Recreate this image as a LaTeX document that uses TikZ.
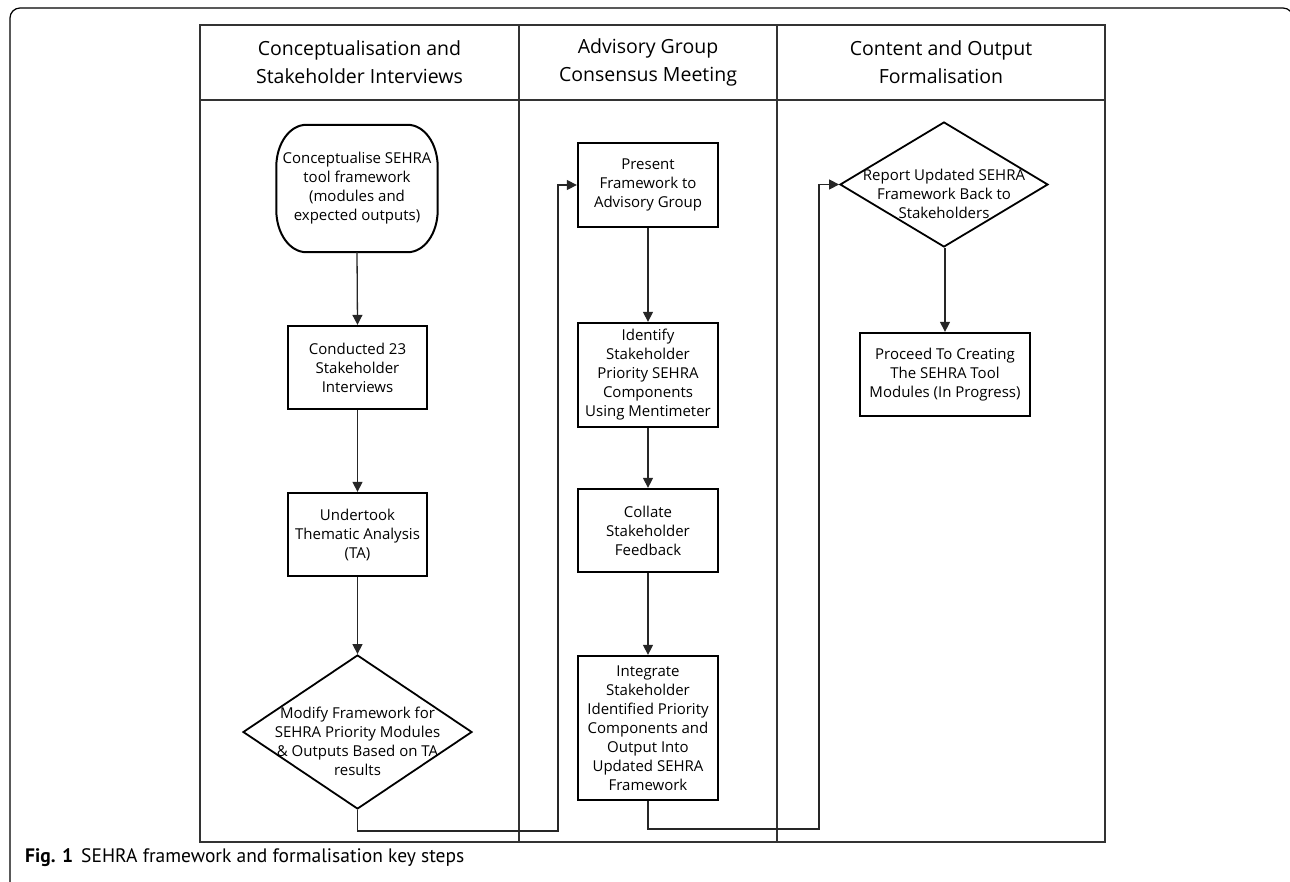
\documentclass[tikz,border=0pt]{standalone}
\usepackage{fontspec}
\setmainfont{Open Sans}
\newfontfamily\capfont{PT Sans}
\usetikzlibrary{arrows.meta,shapes.geometric,calc}
\begin{document}
\begin{tikzpicture}[x=1pt,y=-1pt,
  txt/.style={align=center, font=\fontsize{15}{19}\selectfont, inner sep=0pt},
  hdr/.style={align=center, font=\fontsize{19.5}{28}\selectfont, inner sep=0pt},
  stepbox/.style={draw=black, line width=2.3pt, minimum width=139pt, minimum height=83pt, txt},
  dia/.style={draw=black, line width=1.8pt, shape=diamond, inner sep=0pt},
  tbl/.style={draw=black!80, line width=1.6pt},
  conn/.style={draw=black!85, line width=1.3pt},
  arr/.style={conn, -{Triangle[length=10pt,width=10pt]}},
]
\useasboundingbox (0,0) rectangle (1290,881);
% outer frame
\draw[line width=1.2pt, rounded corners=10pt] (10,900) -- (10,8) -- (1293,8) -- (1293,900);
% table
\draw[tbl] (200,25) rectangle (1105,842);
\draw[tbl] (200,100) -- (1105,100);
\draw[tbl] (519,25) -- (519,842);
\draw[tbl] (777,25) -- (777,842);
% headers
\node[hdr] (h1) at (359.5,62) {Conceptualisation and\\Stakeholder Interviews};
\node[hdr] (h2) at (648,62) {Advisory Group\\Consensus Meeting};
\node[hdr] (h3) at (941,62) {Content and Output\\Formalisation};
% column 1
\node[txt, minimum width=161pt, minimum height=127pt] (term) at (357,188.5) {Conceptualise SEHRA\\tool framework\\(modules and\\expected outputs)};
\draw[line width=2pt] ($(term.north west)+(30,0)$) -- ($(term.north east)+(-30,0)$)
  arc[start angle=90,end angle=0,x radius=30pt,y radius=42pt]
  -- ($(term.south east)+(0,-42)$)
  arc[start angle=0,end angle=-90,x radius=30pt,y radius=42pt]
  -- ($(term.south west)+(30,0)$)
  arc[start angle=270,end angle=180,x radius=30pt,y radius=42pt]
  -- ($(term.north west)+(0,42)$)
  arc[start angle=180,end angle=90,x radius=30pt,y radius=42pt] -- cycle;
\node[stepbox] (b1) at (357.5,367.5) {Conducted 23\\Stakeholder\\Interviews};
\node[stepbox] (b2) at (357.5,534.5) {Undertook\\Thematic Analysis\\(TA)};
\node[dia, minimum width=229pt, minimum height=154pt] (d1) at (357.5,732) {};
\node[txt] (d1t) at (357.5,741) {Modify Framework for\\SEHRA Priority Modules\\\& Outputs Based on TA\\results};
% column 2
\node[stepbox, minimum width=140pt, minimum height=84pt] (p1) at (648,185) {Present\\Framework to\\Advisory Group};
\node[stepbox, minimum width=140pt, minimum height=104pt] (p2) at (648,375) {Identify\\Stakeholder\\Priority SEHRA\\Components\\Using Mentimeter};
\node[stepbox, minimum width=140pt, minimum height=83pt] (p3) at (648,530.5) {Collate\\Stakeholder\\Feedback};
\node[stepbox, minimum width=140pt, minimum height=144pt] (p4) at (648,728) {Integrate\\Stakeholder\\Identified Priority\\Components and\\Output Into\\Updated SEHRA\\Framework};
% column 3
\node[dia, minimum width=208pt, minimum height=125pt] (d2) at (944,184.5) {};
\node[txt] (d2t) at (944,194) {Report Updated SEHRA\\Framework Back to\\Stakeholders};
\node[stepbox, minimum width=170pt, minimum height=83pt] (q1) at (945,374.5) {Proceed To Creating\\The SEHRA Tool\\Modules (In Progress)};
% connectors
\draw[arr] (term.south) -- (b1.north);
\draw[arr] (b1.south) -- (b2.north);
\draw[arr] (b2.south) -- (d1.north);
\coordinate (j1) at (558,831);
\draw[arr] (d1.south) |- (j1) |- (p1.west);
\draw[arr] (p1.south) -- (p2.north);
\draw[arr] (p2.south) -- (p3.north);
\draw[arr] (p3.south) -- (p4.north);
\coordinate (j2) at (819,829);
\draw[arr] (p4.south) |- (j2) |- (d2.west);
\draw[arr] (d2.south -| q1.north) -- (q1.north);
% caption
\node[anchor=west, inner sep=0pt, font=\capfont\fontsize{19.5}{22}\selectfont] (cap) at (25,858) {\textbf{Fig. 1}\hspace{8pt}SEHRA framework and formalisation key steps};
\end{tikzpicture}
\end{document}
